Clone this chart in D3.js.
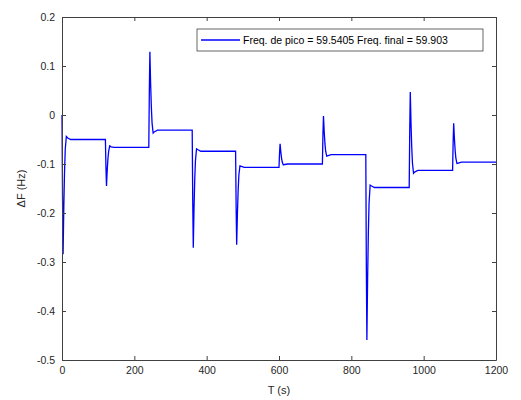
<!DOCTYPE html>
<html>
<head>
<meta charset="UTF-8">
<script src="https://d3js.org/d3.v7.min.js"></script>
<style>
  body { margin: 0; background: #fff; }
  text { font-family: "Liberation Sans", Arial, sans-serif; }
</style>
</head>
<body>
<div id="chart"></div>
<script>
// ΔF trace samples, one row per load step (time in s, deviation in Hz)
var timeS = [
  0, 1.5, 3, 5, 7, 9, 12, 16, 24,
  120, 121.5, 123, 125, 127, 129, 132, 136, 144,
  240, 241.5, 243, 245, 247, 249, 252, 256, 264,
  360, 361.5, 363, 365, 367, 369, 372, 376, 384,
  480, 481.5, 483, 485, 487, 489, 492, 496, 504,
  600, 601.5, 603, 605, 607, 609, 612, 616, 624,
  720, 721.5, 723, 725, 727, 729, 732, 736, 744,
  840, 841.5, 843, 845, 847, 849, 852, 856, 864,
  960, 961.5, 963, 965, 967, 969, 972, 976, 984,
  1080, 1081.5, 1083, 1085, 1087, 1089, 1092, 1096, 1104,
  1200
];
var deltaF = [
  0, -0.17, -0.284, -0.188, -0.117, -0.07, -0.044, -0.047, -0.050,
  -0.050, -0.107, -0.145, -0.113, -0.089, -0.074, -0.063, -0.065, -0.066,
  -0.066, 0.05, 0.129, 0.065, 0.017, -0.016, -0.037, -0.034, -0.031,
  -0.031, -0.175, -0.271, -0.192, -0.132, -0.093, -0.069, -0.071, -0.074,
  -0.074, -0.19, -0.265, -0.202, -0.155, -0.123, -0.104, -0.105, -0.107,
  -0.107, -0.078, -0.059, -0.075, -0.088, -0.096, -0.102, -0.101, -0.100,
  -0.100, -0.04, -0.002, -0.034, -0.058, -0.074, -0.084, -0.083, -0.081,
  -0.081, -0.31, -0.459, -0.335, -0.242, -0.18, -0.143, -0.145, -0.148,
  -0.148, -0.03, 0.047, -0.017, -0.066, -0.098, -0.119, -0.116, -0.113,
  -0.113, -0.055, -0.017, -0.048, -0.072, -0.088, -0.099, -0.098, -0.096,
  -0.096
];
var xTicks = [0, 200, 400, 600, 800, 1000, 1200];
var yTicks = [-0.5, -0.4, -0.3, -0.2, -0.1, 0, 0.1, 0.2];
var legendLabel = "Freq. de pico = 59.5405 Freq. final = 59.903";

var W = 521, H = 400;
var margin = {top: 17, right: 25, bottom: 40, left: 62};
var iw = W - margin.left - margin.right,
    ih = H - margin.top - margin.bottom;

var svg = d3.select("#chart").append("svg")
  .attr("width", W).attr("height", H);
var g = svg.append("g")
  .attr("transform", "translate(" + margin.left + "," + margin.top + ")");

var x = d3.scaleLinear().domain([0, 1200]).range([0, iw]);
var y = d3.scaleLinear().domain([-0.5, 0.2]).range([ih, 0]);

var axisColor = "#404040";

// data line
var pts = timeS.map(function(t, i) { return [t, deltaF[i]]; });
g.append("path")
  .datum(pts)
  .attr("fill", "none")
  .attr("stroke", "#0000ff")
  .attr("stroke-width", 1.3)
  .attr("d", d3.line().x(function(d) { return x(d[0]); }).y(function(d) { return y(d[1]); }));

// axes, MATLAB style box with inward ticks
function styleAxis(sel) {
  sel.select(".domain").attr("stroke", axisColor);
  sel.selectAll(".tick line").attr("stroke", axisColor);
  sel.selectAll(".tick text").attr("fill", "#262626").style("font-size", "10.5px");
}
// plain hyphen minus like MATLAB, no thousands separator
var fmtY = function(d) { return String(Math.round(d * 10) / 10); };
var fmtX = function(d) { return String(d); };

g.append("g").attr("transform", "translate(0," + ih + ")")
  .call(d3.axisBottom(x).tickValues(xTicks).tickSizeInner(-4).tickSizeOuter(0).tickPadding(7).tickFormat(fmtX))
  .call(styleAxis);
g.append("g")
  .call(d3.axisTop(x).tickValues(xTicks).tickSizeInner(-4).tickSizeOuter(0).tickFormat(""))
  .call(styleAxis);
g.append("g")
  .call(d3.axisLeft(y).tickValues(yTicks).tickSizeInner(-4).tickSizeOuter(0).tickPadding(7).tickFormat(fmtY))
  .call(styleAxis);
g.append("g").attr("transform", "translate(" + iw + ",0)")
  .call(d3.axisRight(y).tickValues(yTicks).tickSizeInner(-4).tickSizeOuter(0).tickFormat(""))
  .call(styleAxis);

// axis labels
svg.append("text")
  .attr("x", margin.left + iw / 2).attr("y", 394)
  .attr("text-anchor", "middle")
  .attr("fill", "#262626")
  .style("font-size", "11px")
  .text("T (s)");
svg.append("text")
  .attr("transform", "translate(25," + (margin.top + ih / 2) + ") rotate(-90)")
  .attr("text-anchor", "middle")
  .attr("fill", "#262626")
  .style("font-size", "11px")
  .text("ΔF (Hz)");

// legend
var lg = svg.append("g").attr("transform", "translate(197,29)");
lg.append("rect")
  .attr("width", 286).attr("height", 22)
  .attr("fill", "#fff")
  .attr("stroke", axisColor)
  .attr("stroke-width", 0.8);
lg.append("line")
  .attr("x1", 4).attr("x2", 43).attr("y1", 11).attr("y2", 11)
  .attr("stroke", "#0000ff").attr("stroke-width", 1.3);
lg.append("text")
  .attr("x", 46).attr("y", 15)
  .attr("fill", "#000")
  .style("font-size", "10.5px")
  .text(legendLabel);
</script>
</body>
</html>
